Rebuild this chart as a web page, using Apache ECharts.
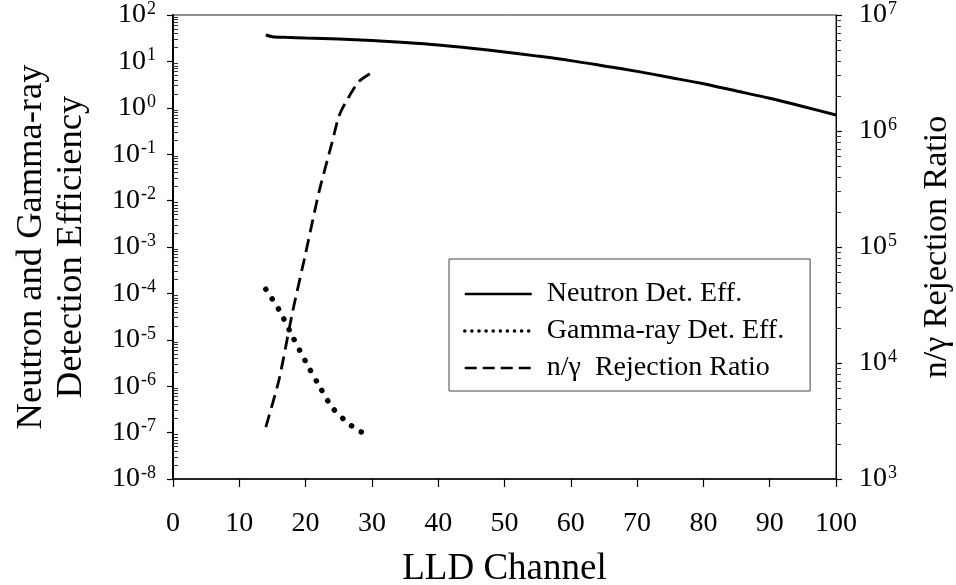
<!DOCTYPE html>
<html>
<head>
<meta charset="utf-8">
<script src="https://cdn.jsdelivr.net/npm/echarts@6/dist/echarts.min.js"></script>
<style>
  html, body { margin: 0; padding: 0; background: #fff; }
  #chart { width: 956px; height: 585px; }
</style>
</head>
<body>
<div id="chart"></div>
<script>
// LLD channel vs. detection efficiency (left, log) and n/gamma rejection ratio (right, log)
const neutronChannels = [14, 15, 17, 20, 25, 30, 35, 40, 45, 50, 55, 60, 65, 70, 75, 80, 85, 90, 95, 100];
const neutronEff      = [37, 34, 33, 32, 30.4, 28.2, 25.5, 22.6, 19.3, 16.0, 13.0, 10.4, 8.0, 6.1, 4.5, 3.3, 2.3, 1.6, 1.07, 0.70];

const gammaChannels = [14, 16, 18, 20, 22, 24, 26, 28, 30];
const gammaEff      = [1.23e-4, 4.4e-5, 1.2e-5, 3.4e-6, 1.05e-6, 3.5e-7, 1.8e-7, 1.1e-7, 8.5e-8];

const ratioChannels = [14, 16, 18, 20, 22, 24, 25, 26, 28, 30];
const rejectionRatio = [2800, 7200, 2.7e4, 8.8e4, 2.95e5, 8.0e5, 1.33e6, 1.75e6, 2.66e6, 3.2e6];

const xTicks = [0, 10, 20, 30, 40, 50, 60, 70, 80, 90, 100];
const effDecades = [1e-8, 1e-7, 1e-6, 1e-5, 1e-4, 1e-3, 1e-2, 1e-1, 1, 10, 100];
const ratioDecades = [1e3, 1e4, 1e5, 1e6, 1e7];

const seriesNames = ['Neutron Det. Eff.', 'Gamma-ray Det. Eff.', 'n/\u03b3  Rejection Ratio'];

// 2..9 times each decade, for the minor ticks of a log axis
function minorValues(decades) {
  const out = [];
  for (let i = 0; i < decades.length - 1; i++) {
    for (let k = 2; k <= 9; k++) out.push(decades[i] * k);
  }
  return out;
}

function pairs(xs, ys) { return xs.map((x, i) => [x, ys[i]]); }

const FONT = 'Liberation Serif';
const INK = '#000';

const powerLabel = {
  fontFamily: FONT,
  color: INK,
  formatter: v => '{b|10}{s|' + Math.round(Math.log10(v)) + '}',
  rich: {
    b: { fontFamily: FONT, fontSize: 28, lineHeight: 30, color: INK },
    s: { fontFamily: FONT, fontSize: 18, lineHeight: 18, verticalAlign: 'top', color: INK, padding: [0, 0, 0, 1] }
  }
};

const chart = echarts.init(document.getElementById('chart'), null, { renderer: 'canvas' });

chart.setOption({
  backgroundColor: '#fff',
  animation: false,
  grid: {
    left: 173, right: 120, top: 15, bottom: 106,
    containLabel: false, outerBoundsMode: 'none',
    show: true, borderColor: '#222', borderWidth: 1, backgroundColor: 'transparent'
  },
  legend: {
    orient: 'vertical',
    left: 449, top: 259,
    padding: [21, 26, 9, 14],
    itemGap: 9,
    itemWidth: 67, itemHeight: 12,
    borderColor: '#444', borderWidth: 1,
    itemStyle: { opacity: 0 },
    textStyle: { fontFamily: FONT, fontSize: 28, color: INK, padding: [0, 0, 0, 10] },
    data: [
      { name: seriesNames[0], lineStyle: { width: 2.5, type: 'solid' }, itemStyle: { opacity: 0 } },
      { name: seriesNames[1], lineStyle: { width: 3.5, type: [0.1, 7], cap: 'round' }, itemStyle: { opacity: 0 } },
      { name: seriesNames[2], lineStyle: { width: 2.5, type: [12, 6] }, itemStyle: { opacity: 0 } }
    ]
  },
  xAxis: {
    type: 'value', min: 0, max: 100, interval: 10,
    name: 'LLD Channel', nameLocation: 'middle', nameGap: 72,
    nameTextStyle: { fontFamily: FONT, fontSize: 37, color: INK },
    axisLine: { lineStyle: { color: INK, width: 1.5 } },
    axisTick: { length: 8, lineStyle: { color: INK, width: 1.2 }, customValues: xTicks },
    axisLabel: { fontFamily: FONT, fontSize: 28, color: INK, margin: 31, customValues: xTicks },
    splitLine: { show: false }
  },
  yAxis: [
    {
      type: 'log', logBase: 10, min: 1e-8, max: 100, position: 'left',
      name: 'Neutron and Gamma-ray\nDetection Efficiency',
      nameLocation: 'middle', nameRotate: 90, nameGap: 82,
      nameTextStyle: { fontFamily: FONT, fontSize: 36.5, lineHeight: 40, color: INK },
      axisLine: { show: true, lineStyle: { color: INK, width: 2 } },
      axisTick: { show: true, length: 6, lineStyle: { color: INK, width: 1.2 }, customValues: effDecades },
      axisLabel: Object.assign({ margin: 17, customValues: effDecades }, powerLabel),
      splitLine: { show: false }
    },
    {
      type: 'log', logBase: 10, min: 1e3, max: 1e7, position: 'right',
      name: 'n/\u03b3 Rejection Ratio',
      nameLocation: 'middle', nameRotate: 90, nameGap: 84,
      nameTextStyle: { fontFamily: FONT, fontSize: 34, color: INK },
      axisLine: { show: true, lineStyle: { color: INK, width: 1 } },
      axisTick: { show: true, length: 6, lineStyle: { color: INK, width: 1.2 }, customValues: ratioDecades },
      axisLabel: Object.assign({ margin: 23, customValues: ratioDecades }, powerLabel),
      splitLine: { show: false }
    },
    {
      type: 'log', logBase: 10, min: 1e-8, max: 100, position: 'left',
      axisLine: { show: false },
      axisTick: { show: true, inside: true, length: 5, lineStyle: { color: '#333', width: 1 }, customValues: minorValues(effDecades) },
      axisLabel: { show: false },
      splitLine: { show: false }
    },
    {
      type: 'log', logBase: 10, min: 1e3, max: 1e7, position: 'right',
      axisLine: { show: false },
      axisTick: { show: true, length: 5, lineStyle: { color: '#333', width: 1 }, customValues: minorValues(ratioDecades) },
      axisLabel: { show: false },
      splitLine: { show: false }
    }
  ],
  series: [
    {
      name: seriesNames[0], type: 'line', yAxisIndex: 0,
      data: pairs(neutronChannels, neutronEff),
      symbol: 'none', smooth: 0.3,
      lineStyle: { color: INK, width: 3 },
      itemStyle: { color: INK }
    },
    {
      name: seriesNames[1], type: 'line', yAxisIndex: 0,
      data: pairs(gammaChannels, gammaEff),
      symbol: 'none', smooth: 0.3,
      lineStyle: { color: INK, width: 5.5, type: [0.1, 11.5], cap: 'round' },
      itemStyle: { color: INK }
    },
    {
      name: seriesNames[2], type: 'line', yAxisIndex: 1,
      data: pairs(ratioChannels, rejectionRatio),
      symbol: 'none', smooth: 0.2,
      lineStyle: { color: INK, width: 2.8, type: [13, 7] },
      itemStyle: { color: INK }
    }
  ]
});
</script>
</body>
</html>
